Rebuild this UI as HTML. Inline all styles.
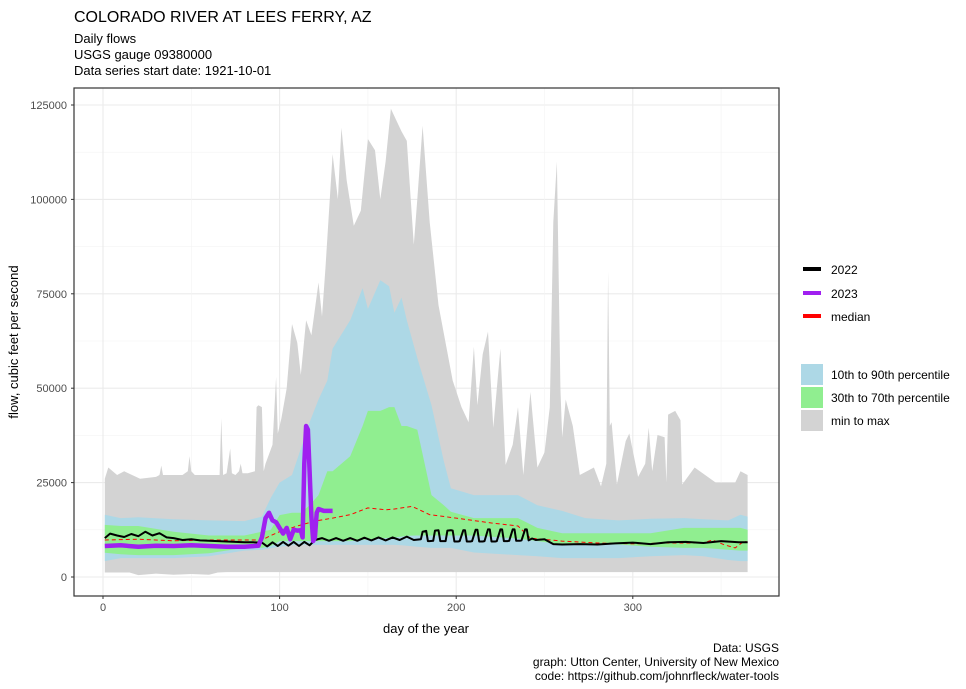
<!DOCTYPE html>
<html><head><meta charset="utf-8"><style>
body{margin:0;background:#fff;font-family:"Liberation Sans",Arial,sans-serif}
svg text{font-family:"Liberation Sans",Arial,sans-serif}
</style></head><body>
<svg id="chart" width="966" height="684" viewBox="0 0 966 684">
<text x="74" y="22" font-size="16" fill="#000">COLORADO RIVER AT LEES FERRY, AZ</text>
<text x="74" y="43" font-size="13" fill="#000">Daily flows</text>
<text x="74" y="59" font-size="13" fill="#000">USGS gauge  09380000</text>
<text x="74" y="75" font-size="13" fill="#000">Data series start date:  1921-10-01</text>
<g id="grid"></g>
<g id="marks"></g>
<rect x="74" y="88" width="705" height="508" fill="none" stroke="#333" stroke-width="1.2"/>
<g id="axes"></g>
<text x="426" y="633" font-size="13" text-anchor="middle" fill="#000">day of the year</text>
<text transform="translate(18,342) rotate(-90)" font-size="13" text-anchor="middle" fill="#000">flow, cubic feet per second</text>
<g font-size="12" text-anchor="end" fill="#000">
<text x="779" y="652">Data: USGS</text>
<text x="779" y="666">graph: Utton Center, University of New Mexico</text>
<text x="779" y="680">code: https://github.com/johnrfleck/water-tools</text>
</g>
<g font-size="12" fill="#000">
<rect x="803" y="267" width="18" height="4" fill="#000"/>
<text x="831" y="274">2022</text>
<rect x="803" y="291" width="18" height="4" fill="#a020f0"/>
<text x="831" y="298">2023</text>
<rect x="803" y="314" width="18" height="4" fill="#ff0000"/>
<text x="831" y="321">median</text>
<rect x="801" y="364" width="22" height="21" fill="#add8e6"/>
<text x="831" y="379">10th to 90th percentile</text>
<rect x="801" y="387" width="22" height="21" fill="#90ee90"/>
<text x="831" y="402">30th to 70th percentile</text>
<rect x="801" y="410" width="22" height="21" fill="#d3d3d3"/>
<text x="831" y="425">min to max</text>
</g>
</svg>
<script>
const yTicks=[0,25000,50000,75000,100000,125000];
const xTicks=[0,100,200,300];
const maxDays=[1,3,8,12,21,30,32,33,34,36,45,48,49,50,52,60,66,67,68,70,72,73,75,77,78,79,82,86,87,88,90,91,92,96,98,99,101,104,107,110,112,115,118,122,124,126,130,133,135,138,142,146,150,154,157,160,163,166,169,172,176,178,181,185,190,198,203,207,210,212,215,218,221,225,228,232,235,238,242,246,250,253,255,257,259,260,262,266,270,278,282,285,286,287,288,291,296,298,303,307,309,311,314,318,319,320,324,327,328,335,347,358,361,365];
const maxVals=[26000,29000,27000,28000,26000,26500,27000,29500,27000,27000,27000,28000,32000,28000,27000,27000,27000,42000,27000,27500,34000,27500,27000,28000,30000,27500,27500,28000,45000,45500,45000,28000,30000,35000,53000,38000,42000,50000,67000,62000,53500,68000,64000,78000,69000,82000,112000,100000,119000,105000,93000,97000,116000,113000,100000,110000,124000,121000,118000,115500,88000,100000,119500,94000,72000,52000,45000,41000,61000,45500,59000,65000,39500,60500,29700,35000,45000,27000,49000,29000,33000,45000,94000,110000,50000,37000,47000,40000,27000,29000,24000,30000,81000,40000,41000,24500,36000,38000,26500,30000,39500,28000,37600,37000,25000,43000,44000,41500,24500,29000,25000,25000,28000,27000];
const minDays=[1,15,20,30,40,50,60,65,70,100,200,250,300,365];
const minVals=[1200,1200,500,900,600,800,600,1200,1300,1300,1300,1300,1300,1300];
const bandDays=[1,10,20,40,60,80,90,95,100,107,112,117,122,127,130,140,147,150,157,162,165,169,172,178,186,193,197,210,235,246,260,273,292,310,329,340,354,361,365];
const p90Vals=[16500,15600,15800,15300,15000,14800,16000,21000,25000,27000,34000,41000,47000,52000,60500,68000,76500,71000,78600,77000,70000,74000,68000,58000,45500,30700,23500,21700,21700,19000,17500,15600,15000,15400,15600,15300,15000,16500,16000];
const p10Vals=[4200,5000,5000,5000,5500,7000,7200,7600,8000,8400,8500,8500,8500,8500,8500,8500,8500,8500,8500,8500,8500,8400,8300,8000,7700,7700,7700,6500,5800,5500,5000,5000,5000,5500,5800,5500,4500,4200,4200];
const p70Vals=[13800,13500,13500,12000,11000,11000,12000,12500,16400,17000,17000,19000,21700,28000,28000,32000,40000,44000,44000,45000,45000,40000,40000,39000,21700,19000,17300,15600,15600,13000,11600,11600,11600,11600,13000,13000,13000,13000,12500];
const p30Vals=[6400,6000,5800,5800,6300,7700,7700,8200,9500,9500,9500,9500,9500,9500,9500,9500,9800,10000,10200,10400,10500,10700,10900,11000,11000,11000,11000,11000,10200,9500,8600,8600,8600,8000,7700,7700,7200,7000,7000];
const medDays=[1,20,40,60,90,95,100,110,120,130,140,150,160,165,175,185,200,220,235,242,260,280,300,320,340,345,352,358,363,365];
const medVals=[9800,10000,9600,9800,9800,11000,12000,13500,14800,15600,16500,18300,17800,18000,18700,16500,15600,14300,13500,10300,9500,9000,8800,9000,9000,9800,8500,7700,9500,9200];
const y22Days=[1,4,8,12,16,20,24,28,32,36,40,45,50,55,60,65,70,75,80,85,90,93,96,99,102,105,108,111,114,117,120,124,128,132,136,140,144,148,152,156,160,164,168,172,176,180,181,183,184,185,187,188,190,191,192,194,195,197,198,199,201,202,204,205,206,208,209,211,212,213,215,216,218,219,220,222,223,225,226,227,229,230,232,233,234,236,237,239,240,241,243,245,250,255,260,270,280,290,300,310,320,330,340,350,360,365];
const y22Vals=[10300,11500,11000,10600,11400,10800,12000,11000,11600,10500,10300,9800,10000,9700,9600,9500,9400,9300,9200,9200,9100,8100,9200,8200,9300,8300,9300,8200,9300,8400,9800,10300,9600,10300,9600,10300,9600,10400,9700,10500,9700,10500,9800,10700,9800,10000,12000,12200,9500,9500,9600,12300,12400,9500,9500,9500,12300,12400,12300,9400,9400,9500,12400,12400,9400,9400,9500,12500,12500,9400,9400,9500,12600,12600,9400,9400,9500,12600,12600,9500,9500,9600,12600,12600,9600,9600,9700,12600,12600,9700,10200,9800,10000,8700,8600,8700,8600,8900,9100,8700,9200,9300,9000,9500,9200,9200];
const y23Days=[1,10,20,30,40,50,60,70,80,88,90,92,94,96,98,100,102,104,106,108,110,112,113,114,115,116,117,118,119,120,121,122,125,130];
const y23Vals=[8200,8400,8000,8300,8200,8400,8200,8000,8000,8300,10500,15600,17000,15000,14500,13000,11500,13000,10000,12500,12300,12400,10500,30000,40000,39000,28000,16000,9500,10500,17000,18000,17500,17500];

const X0=103,XS=1.766,Y0=577,YS=0.003776;
const xs=d=>X0+d*XS, ys=v=>Y0-v*YS;
const NS='http://www.w3.org/2000/svg';
function mk(tag,attrs,parent){const e=document.createElementNS(NS,tag);for(const k in attrs)e.setAttribute(k,attrs[k]);parent.appendChild(e);return e;}
const grid=document.getElementById('grid'),marks=document.getElementById('marks'),axes=document.getElementById('axes');
mk('rect',{x:74,y:88,width:705,height:508,fill:'#fff'},grid);
for(let i=0;i<yTicks.length;i++){
  const v=yTicks[i];
  const g=mk('line',{x1:74,x2:779,y1:ys(v),y2:ys(v),stroke:'#ebebeb','stroke-width':1.1},grid);
  
  
  if(i<yTicks.length-1){const m=mk('line',{x1:74,x2:779,y1:ys(v+12500),y2:ys(v+12500),stroke:'#f3f3f3','stroke-width':0.6},grid);
  
  }
  const t=mk('text',{x:67,y:ys(v)+4,'font-size':11,'text-anchor':'end',fill:'#4d4d4d'},axes);t.textContent=v;
  
  
  mk('line',{x1:71,x2:74,y1:ys(v),y2:ys(v),stroke:'#333'},axes);
}
for(const d of xTicks){
  const g=mk('line',{x1:xs(d),x2:xs(d),y1:88,y2:596,stroke:'#ebebeb','stroke-width':1.1},grid);
  
  
  const m=mk('line',{x1:xs(d+50),x2:xs(d+50),y1:88,y2:596,stroke:'#f3f3f3','stroke-width':0.6},grid);
  
  
  const t=mk('text',{x:xs(d),y:611,'font-size':11,'text-anchor':'middle',fill:'#4d4d4d'},axes);t.textContent=d;
  
  
  mk('line',{x1:xs(d),x2:xs(d),y1:596,y2:599,stroke:'#333'},axes);
}
function area(dU,vU,dL,vL,fill,name){
  let p=dU.map((d,i)=>xs(d).toFixed(1)+','+ys(vU[i]).toFixed(1));
  for(let i=dL.length-1;i>=0;i--)p.push(xs(dL[i]).toFixed(1)+','+ys(vL[i]).toFixed(1));
  const e=mk('polygon',{points:p.join(' '),fill:fill},marks);
  
  
}
function line(d,v,stroke,w,name,dash){
  const e=mk('polyline',{points:d.map((x,i)=>xs(x).toFixed(1)+','+ys(v[i]).toFixed(1)).join(' '),fill:'none',stroke:stroke,'stroke-width':w,'stroke-linejoin':'round'},marks);
  if(dash)e.setAttribute('stroke-dasharray',dash);
  
  
}
area(maxDays,maxVals,minDays,minVals,'#d3d3d3','min-max-band');
area(bandDays,p90Vals,bandDays,p10Vals,'#add8e6','p10-p90-band');
area(bandDays,p70Vals,bandDays,p30Vals,'#90ee90','p30-p70-band');
line(medDays,medVals,'#ff0000',1,'median-line','4,3');
line(y22Days,y22Vals,'#000',2,'line-2022');
line(y23Days,y23Vals,'#a020f0',4.5,'line-2023');
</script>
</body></html>
